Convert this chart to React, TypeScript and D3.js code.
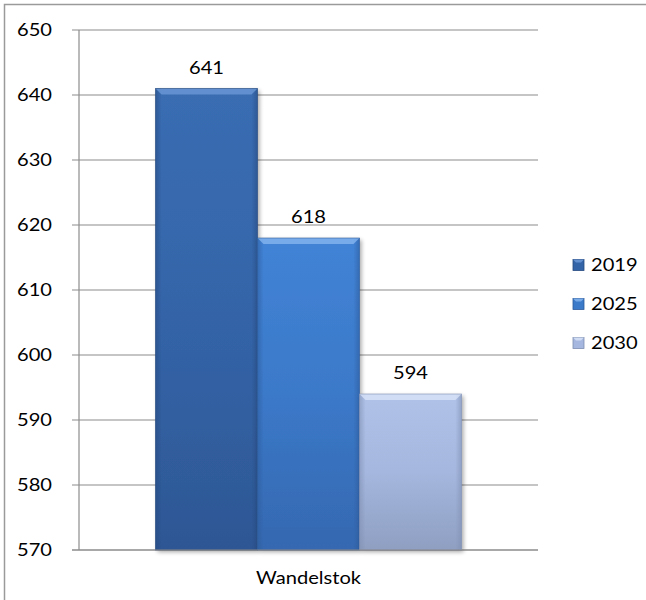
import React from "react";
import * as d3 from "d3";

const categories = ["Wandelstok"];
const seriesNames = ["2019", "2025", "2030"];
const seriesValues = [641, 618, 594];
const yTicks = [570, 580, 590, 600, 610, 620, 630, 640, 650];
const seriesColors = [
  { top: "#3a6db3", mid: "#3464a8", bottom: "#2d5794", edge: "#26497e", light: "#6f9bd8" },
  { top: "#4283d6", mid: "#3b79c9", bottom: "#3568b0", edge: "#2c5a99", light: "#8ab8f0" },
  { top: "#b0c2e8", mid: "#a6b7df", bottom: "#8e9fc2", edge: "#7d8db0", light: "#dbe5f8" },
];

const W = 646;
const H = 600;
const plot = { left: 79, right: 538, top: 30, bottom: 550 };
const FONT = "Lato, 'Open Sans', sans-serif";
const FS = 16.5;
const SX = 1.22;

function T(props: { x: number; y: number; anchor?: string; children: React.ReactNode }) {
  return (
    <text
      transform={`translate(${props.x},${props.y}) scale(${SX},1)`}
      textAnchor={props.anchor || "start"}
      dominantBaseline="central"
      fontFamily={FONT}
      fontSize={FS}
      fill="#000"
    >
      {props.children}
    </text>
  );
}

export default function App() {
  const y = d3.scaleLinear().domain([570, 650]).range([plot.bottom, plot.top]);
  const x0 = d3.scaleBand().domain(categories).range([plot.left, plot.right]).paddingInner(0).paddingOuter(0);
  const bw = x0.bandwidth();
  const groupW = (bw / (seriesNames.length + 1.5)) * seriesNames.length;
  const x1 = d3
    .scaleBand()
    .domain(seriesNames)
    .range([(bw - groupW) / 2, (bw + groupW) / 2])
    .padding(0);

  const legendY = [265, 304, 343];

  return (
    <div style={{ position: "absolute", left: 0, top: 0 }}>
      <svg width={W} height={H} style={{ display: "block", background: "#fff" }}>
        <defs>
          {seriesColors.map((c, i) => (
            <linearGradient key={"g" + i} id={"grad" + i} x1="0" y1="0" x2="0" y2="1">
              <stop offset="0" stopColor={c.top} />
              <stop offset="0.5" stopColor={c.mid} />
              <stop offset="1" stopColor={c.bottom} />
            </linearGradient>
          ))}
          {seriesColors.map((c, i) => (
            <linearGradient key={"h" + i} id={"hgrad" + i} x1="0" y1="0" x2="1" y2="0">
              <stop offset="0" stopColor={c.edge} stopOpacity={0.55} />
              <stop offset="0.06" stopColor={c.edge} stopOpacity={0.0} />
              <stop offset="0.94" stopColor={c.edge} stopOpacity={0.0} />
              <stop offset="1" stopColor={c.edge} stopOpacity={0.55} />
            </linearGradient>
          ))}
          <filter id="shadow" x="-10%" y="-10%" width="125%" height="125%">
            <feGaussianBlur in="SourceAlpha" stdDeviation="2" />
            <feOffset dx="2" dy="2" result="ob" />
            <feComponentTransfer>
              <feFuncA type="linear" slope="0.35" />
            </feComponentTransfer>
            <feMerge>
              <feMergeNode />
              <feMergeNode in="SourceGraphic" />
            </feMerge>
          </filter>
        </defs>

        {/* outer border (left and top visible) */}
        <rect x={4.5} y={4.5} width={W + 10} height={H + 10} fill="none" stroke="#9a9a9a" strokeWidth={1.5} />

        {/* gridlines and ticks */}
        {yTicks.map((t) => (
          <g key={t}>
            <line x1={72} x2={plot.right} y1={y(t)} y2={y(t)} stroke="#8c8c8c" strokeWidth={1.2} />
            <T x={52} y={y(t)} anchor="end">
              {t}
            </T>
          </g>
        ))}
        <line x1={plot.left} x2={plot.left} y1={plot.top} y2={plot.bottom} stroke="#8c8c8c" strokeWidth={1.2} />

        {/* bars */}
        {categories.map((cat) => (
          <g key={cat} transform={`translate(${x0(cat)},0)`}>
            {seriesNames.map((s, i) => {
              const v = seriesValues[i];
              const bx = x1(s)!;
              const w = x1.bandwidth();
              const top = y(v);
              const h = y(570) - top;
              const c = seriesColors[i];
              const bev = 6;
              return (
                <g key={s}>
                  <g filter="url(#shadow)">
                    <rect x={bx} y={top} width={w} height={h} fill={`url(#grad${i})`} />
                  </g>
                  <rect x={bx} y={top} width={w} height={h} fill={`url(#hgrad${i})`} />
                  <path
                    d={`M${bx},${top} L${bx + w},${top} L${bx + w - bev},${top + bev} L${bx + bev},${top + bev} Z`}
                    fill={c.light}
                    opacity={0.75}
                  />
                  <rect x={bx} y={top} width={w} height={h} fill="none" stroke={c.edge} strokeWidth={0.8} opacity={0.7} />
                  <T x={bx + w / 2} y={top - 21} anchor="middle">
                    {v}
                  </T>
                </g>
              );
            })}
          </g>
        ))}

        {/* x axis line */}
        <line x1={72} x2={plot.right} y1={plot.bottom} y2={plot.bottom} stroke="#8c8c8c" strokeWidth={1.2} />

        {/* category label */}
        {categories.map((cat) => (
          <T key={cat} x={x0(cat)! + bw / 2} y={578} anchor="middle">
            {cat}
          </T>
        ))}

        {/* legend */}
        {seriesNames.map((s, i) => {
          const c = seriesColors[i];
          const cy = legendY[i];
          return (
            <g key={s}>
              <rect x={573} y={cy - 5.5} width={11} height={11} fill={c.mid} stroke={c.edge} strokeWidth={0.8} />
              <path d={`M573,${cy - 5.5} L584,${cy - 5.5} L581,${cy - 2.5} L576,${cy - 2.5} Z`} fill={c.light} opacity={0.8} />
              <T x={591} y={cy}>
                {s}
              </T>
            </g>
          );
        })}
      </svg>
    </div>
  );
}
